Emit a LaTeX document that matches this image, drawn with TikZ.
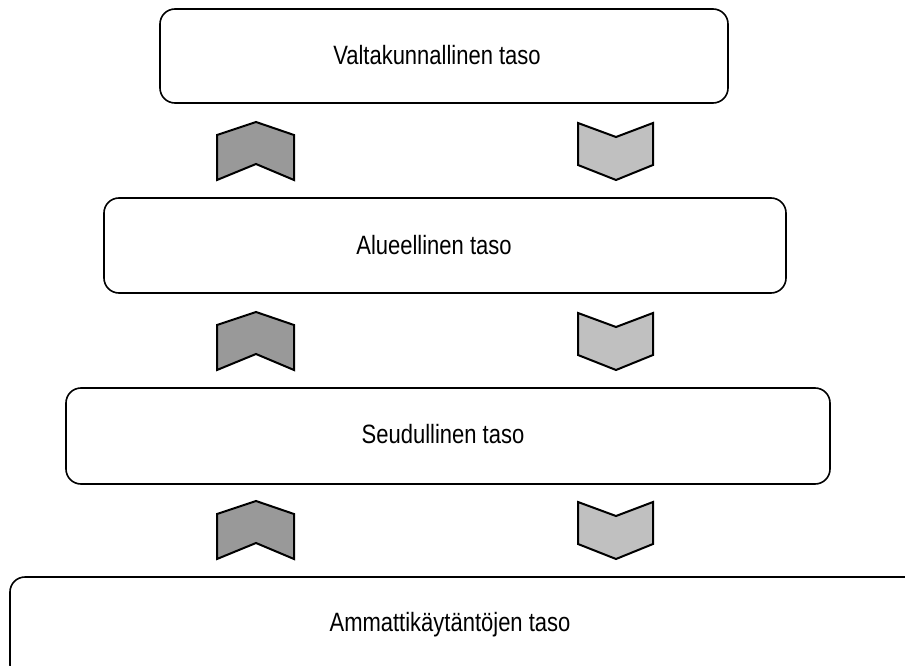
\documentclass[tikz,border=0pt]{standalone}
\usepackage{fontspec}
\setmainfont{Liberation Sans}[FakeStretch=0.83]
\definecolor{upfill}{RGB}{153,153,153}
\definecolor{downfill}{RGB}{192,192,192}
\begin{document}
\begin{tikzpicture}[x=1pt,y=-1pt,
  level/.style={draw=black, line width=1.6pt, rounded corners=15pt, inner sep=0pt},
  leveltext/.style={anchor=base, inner sep=0pt, font=\fontsize{26.5}{31}\selectfont},
  chevron/.style={draw=black, line width=2pt, line join=miter},
  upchev/.pic={\path[chevron, fill=upfill] (-39,13) -- (0,0) -- (38,13) -- (38,58) -- (0,42) -- (-39,58) -- cycle;},
  downchev/.pic={\path[chevron, fill=downfill] (-38,0) -- (0,14) -- (37,0) -- (37,42) -- (0,57) -- (-38,42) -- cycle;}]
\useasboundingbox (0,0) rectangle (905,666);
\clip (0,0) rectangle (905,666);

% the four levels, widest at the bottom
\node[level, minimum width=568pt, minimum height=94pt] (national) at (444,56) {};
\node[level, minimum width=682pt, minimum height=95pt] (regional) at (445,245.5) {};
\node[level, minimum width=764pt, minimum height=96pt] (local) at (448,436) {};
\node[level, minimum width=910pt, minimum height=103pt] (practice) at (465,628.5) {};

\node[leveltext] (nationaltext) at (437,65) {Valtakunnallinen taso};
\node[leveltext] (regionaltext) at (434,254) {Alueellinen taso};
\node[leveltext] (localtext) at (443,443) {Seudullinen taso};
\node[leveltext] (practicetext) at (450,631) {Ammattikäytäntöjen taso};

% upward and downward chevrons between the levels
\pic at (256,122) {upchev};
\pic at (256,312) {upchev};
\pic at (256,501) {upchev};
\pic at (616,123) {downchev};
\pic at (616,313) {downchev};
\pic at (616,502) {downchev};
\end{tikzpicture}
\end{document}
